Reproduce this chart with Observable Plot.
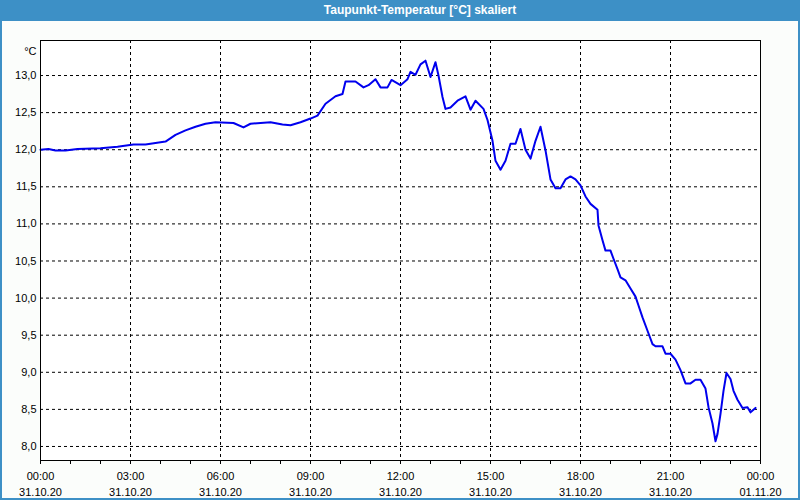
<!DOCTYPE html>
<html><head><meta charset="utf-8">
<script src="https://cdn.jsdelivr.net/npm/d3@7"></script>
<script src="https://cdn.jsdelivr.net/npm/@observablehq/plot@0.6"></script>
<style>
html,body{margin:0;padding:0;background:#fbfdfb;}
#win{position:relative;width:800px;height:500px;overflow:hidden;background:#fbfdfb;}
#title{position:absolute;left:0;top:0;width:800px;height:21px;background:#3d90c6;color:#fff;font:bold 12px "Liberation Sans",sans-serif;line-height:21px;text-align:center;box-sizing:border-box;padding-left:40px;}
#chart{position:absolute;left:0;top:21px;}
#border{position:absolute;left:0;top:0;width:800px;height:500px;box-sizing:border-box;border:2px solid #3d90c6;border-top:none;pointer-events:none;}
</style></head>
<body>
<div id="win">
  <div id="title">Taupunkt-Temperatur [°C] skaliert</div>
  <div id="chart"></div>
  <div id="border"></div>
</div>
<script>
// minutes since 31.10.20 00:00
const minutes = [0,16,30,50,74,120,154,186,210,230,250,270,290,310,330,350,386,406,420,460,484,500,520,540,554,570,590,604,610,630,646,656,670,680,694,702,720,734,740,750,760,770,780,790,796,804,810,820,834,850,860,870,886,894,904,910,920,930,940,950,960,970,980,990,1000,1010,1020,1030,1040,1050,1060,1070,1080,1090,1100,1114,1116,1124,1130,1140,1146,1154,1160,1170,1180,1190,1196,1204,1214,1224,1230,1244,1250,1260,1270,1280,1290,1300,1310,1320,1330,1336,1344,1350,1354,1360,1366,1372,1380,1386,1394,1404,1414,1420,1430];
const values = [12.00,12.01,11.99,11.99,12.01,12.02,12.04,12.07,12.07,12.09,12.11,12.20,12.26,12.31,12.35,12.37,12.36,12.30,12.35,12.37,12.34,12.33,12.37,12.42,12.46,12.62,12.72,12.75,12.92,12.92,12.84,12.87,12.95,12.84,12.84,12.94,12.87,12.95,13.05,13.01,13.15,13.20,12.98,13.18,13.00,12.71,12.55,12.57,12.66,12.72,12.54,12.66,12.55,12.40,12.12,11.85,11.73,11.85,12.08,12.08,12.28,12.00,11.88,12.12,12.31,11.99,11.60,11.48,11.48,11.60,11.64,11.60,11.52,11.37,11.27,11.19,10.98,10.78,10.64,10.64,10.53,10.39,10.28,10.24,10.13,10.02,9.90,9.74,9.56,9.38,9.35,9.35,9.25,9.25,9.17,9.03,8.85,8.85,8.90,8.90,8.78,8.53,8.31,8.07,8.17,8.44,8.75,8.99,8.91,8.75,8.63,8.52,8.53,8.46,8.52];
const yTicks = [8.0,8.5,9.0,9.5,10.0,10.5,11.0,11.5,12.0,12.5,13.0];
const hourTicks = [0,1,2,3,4,5,6,7,8,9,10,11,12,13,14,15,16,17,18,19,20,21,22,23,24];
const labelHours = [0,3,6,9,12,15,18,21,24];
const gridHours = [3,6,9,12,15,18,21];
const unitLabel = "°C";

const t0 = Date.UTC(2020, 9, 31);
const toDate = h => new Date(t0 + h * 3600000);
const data = minutes.map((m, i) => ({t: new Date(t0 + m * 60000), v: values[i]}));
const fmtTime = d3.utcFormat("%H:%M");
const fmtDay = d3.utcFormat("%d.%m.%y");

const chart = Plot.plot({
  width: 800, height: 477,
  marginLeft: 40, marginRight: 40, marginTop: 19, marginBottom: 38,
  style: {background: "transparent", fontFamily: "'Liberation Sans', sans-serif", fontSize: "11px", color: "#000"},
  x: {type: "utc", domain: [toDate(0), toDate(24)]},
  y: {domain: [7.811, 13.472]},
  marks: [
    Plot.frame({fill: "white", stroke: null}),
    Plot.gridY(yTicks, {stroke: "#000", strokeOpacity: 1, strokeDasharray: "3,3"}),
    Plot.gridX(gridHours.map(toDate), {stroke: "#000", strokeOpacity: 1, strokeDasharray: "3,3"}),
    Plot.axisY(yTicks, {tickSize: 0, tickPadding: 4, tickFormat: d => d.toFixed(1).replace(".", ","), label: null}),
    Plot.axisX(hourTicks.map(toDate), {tickSize: 4, tickFormat: () => "", label: null}),
    Plot.axisX(labelHours.map(toDate), {tickSize: 0, tickPadding: 9, lineHeight: 1.4, tickFormat: d => fmtTime(d) + "\n" + fmtDay(d), label: null}),
    Plot.line(data, {x: "t", y: "v", stroke: "#0000ee", strokeWidth: 2}),
    Plot.frame({stroke: "#000"}),
    Plot.text([unitLabel], {frameAnchor: "top-left", textAnchor: "end", dx: -4, dy: 7})
  ]
});
document.getElementById("chart").appendChild(chart);
</script>
</body></html>
